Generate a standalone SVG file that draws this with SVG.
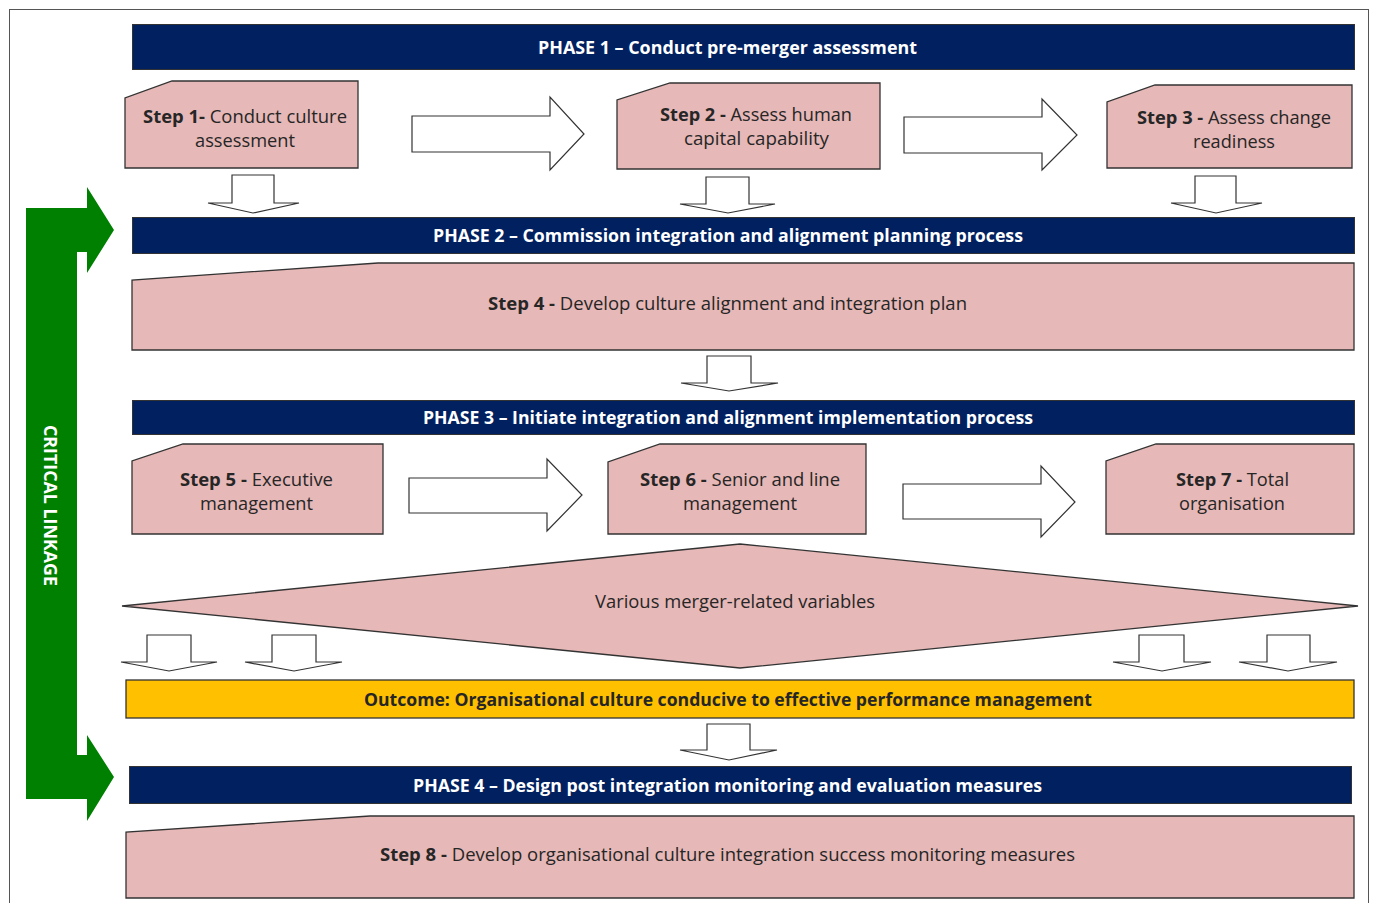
<svg xmlns="http://www.w3.org/2000/svg" width="1373" height="903" viewBox="0 0 1373 903">
<style>
.frame{fill:#fff;stroke:#555;stroke-width:1}
.phase{fill:#002060;stroke:#333;stroke-width:1}
.step{fill:#E6B8B7;stroke:#333;stroke-width:1.3}
.outcome{fill:#FFC000;stroke:#333;stroke-width:1.3}
.blk{fill:#fff;stroke:#333;stroke-width:1.2}
.link{fill:#008000}
text{font-family:"Open Sans","Noto Sans","Liberation Sans",sans-serif;font-size:18px;fill:#262626;text-anchor:middle}
.pt{font-weight:bold;fill:#fff;font-size:17px}
.b{font-weight:bold}
.ot{font-weight:bold;font-size:17px}
.cl{font-weight:bold;fill:#fff;font-size:17px}
</style>
<rect x="0" y="0" width="1373" height="903" fill="#fff"/>
<rect class="frame" x="9.5" y="9.5" width="1359" height="1000"/>

<g id="critical-linkage">
<polygon class="link" points="26,208 87,208 87,187 114,230 87,273 87,252 77,252 77,755 87,755 87,735 114,777 87,821 87,799 26,799"/>
<text class="cl" transform="translate(44,505.5) rotate(90)" x="0" y="0" textLength="161" lengthAdjust="spacingAndGlyphs">CRITICAL  LINKAGE</text>
</g>

<g id="connectors">
<polygon class="blk" points="412,116 550,116 550,97 584,134 550,170 550,152 412,152"/>
<polygon class="blk" points="904,117 1042,117 1042,99 1077,135 1042,170 1042,153 904,153"/>
<polygon class="blk" points="409,478 547,478 547,459 582,495 547,531 547,513 409,513"/>
<polygon class="blk" points="903,484 1041,484 1041,466 1075,502 1041,537 1041,519 903,519"/>
<polygon class="blk" points="232,175 274,175 274,203 299,203 253,213 208,203 232,203"/>
<polygon class="blk" points="706,177 749,177 749,204 775,204 728,213 680,204 706,204"/>
<polygon class="blk" points="1195,176 1236,176 1236,203 1262,203 1216,213 1171,203 1195,203"/>
<polygon class="blk" points="707,356 751,356 751,383 778,383 729,391 681,383 707,383"/>
<polygon class="blk" points="147,635 191,635 191,662 217,662 169,671 121,662 147,662"/>
<polygon class="blk" points="272,635 316,635 316,662 342,662 294,671 245,662 272,662"/>
<polygon class="blk" points="1139,635 1184,635 1184,662 1211,662 1162,671 1113,662 1139,662"/>
<polygon class="blk" points="1267,635 1310,635 1310,662 1337,662 1288,671 1239,662 1267,662"/>
<polygon class="blk" points="707,724 750,724 750,750 777,750 729,760 680,750 707,750"/>
</g>

<g id="phase1">
<rect class="phase" x="132.5" y="24.5" width="1222" height="45"/>
<text class="pt" x="727.5" y="54" textLength="379" lengthAdjust="spacingAndGlyphs">PHASE 1 – Conduct pre-merger assessment</text>
</g>

<g id="step1">
<polygon class="step" points="172,81 358,81 358,168 125,168 125,98"/>
<text x="245" y="123" textLength="204" lengthAdjust="spacingAndGlyphs"><tspan class="b">Step 1-</tspan> Conduct culture</text>
<text x="245" y="147" textLength="100" lengthAdjust="spacingAndGlyphs">assessment</text>
</g>

<g id="step2">
<polygon class="step" points="670,83 880,83 880,169 617,169 617,100"/>
<text x="756" y="121" textLength="192" lengthAdjust="spacingAndGlyphs"><tspan class="b">Step 2 -</tspan> Assess human</text>
<text x="756.5" y="145" textLength="145" lengthAdjust="spacingAndGlyphs">capital capability</text>
</g>

<g id="step3">
<polygon class="step" points="1155,85 1352,85 1352,168 1107,168 1107,102"/>
<text x="1234" y="124" textLength="194" lengthAdjust="spacingAndGlyphs"><tspan class="b">Step 3 -</tspan> Assess change</text>
<text x="1234" y="148" textLength="82" lengthAdjust="spacingAndGlyphs">readiness</text>
</g>

<g id="phase2">
<rect class="phase" x="132.5" y="217.5" width="1222" height="36"/>
<text class="pt" x="728" y="241.5" textLength="590" lengthAdjust="spacingAndGlyphs">PHASE 2 – Commission integration and alignment planning process</text>
</g>

<g id="step4">
<polygon class="step" points="378,263 1354,263 1354,350 132,350 132,280"/>
<text x="727.5" y="309.5" textLength="479" lengthAdjust="spacingAndGlyphs"><tspan class="b">Step 4 -</tspan> Develop culture alignment and integration plan</text>
</g>

<g id="phase3">
<rect class="phase" x="132.5" y="400.5" width="1222" height="34"/>
<text class="pt" x="728" y="423.5" textLength="610" lengthAdjust="spacingAndGlyphs">PHASE 3 – Initiate integration and alignment implementation process</text>
</g>

<g id="step5">
<polygon class="step" points="183,444 383,444 383,534 132,534 132,461"/>
<text x="256.5" y="485.5" textLength="153" lengthAdjust="spacingAndGlyphs"><tspan class="b">Step 5 -</tspan> Executive</text>
<text x="256.5" y="509.5" textLength="113" lengthAdjust="spacingAndGlyphs">management</text>
</g>

<g id="step6">
<polygon class="step" points="660,444 866,444 866,534 608,534 608,462"/>
<text x="740" y="485.5" textLength="200" lengthAdjust="spacingAndGlyphs"><tspan class="b">Step 6 -</tspan> Senior and line</text>
<text x="740" y="509.5" textLength="114" lengthAdjust="spacingAndGlyphs">management</text>
</g>

<g id="step7">
<polygon class="step" points="1156,444 1354,444 1354,534 1106,534 1106,461"/>
<text x="1232.5" y="485.5" textLength="113" lengthAdjust="spacingAndGlyphs"><tspan class="b">Step 7 -</tspan> Total</text>
<text x="1232" y="509.5" textLength="106" lengthAdjust="spacingAndGlyphs">organisation</text>
</g>

<g id="variables">
<polygon class="step" points="122,606 740,544 1358,606 740,668"/>
<text x="735" y="608" textLength="280" lengthAdjust="spacingAndGlyphs">Various merger-related variables</text>
</g>

<g id="outcome">
<rect class="outcome" x="126" y="680" width="1228" height="38"/>
<text class="ot" x="728" y="705.5" textLength="728" lengthAdjust="spacingAndGlyphs">Outcome: Organisational culture conducive to effective performance management</text>
</g>

<g id="phase4">
<rect class="phase" x="129.5" y="766.5" width="1222" height="37"/>
<text class="pt" x="727.5" y="791.5" textLength="629" lengthAdjust="spacingAndGlyphs">PHASE 4 – Design post integration monitoring and evaluation measures</text>
</g>

<g id="step8">
<polygon class="step" points="370,816 1354,816 1354,898 126,898 126,832"/>
<text x="727.5" y="860.5" textLength="695" lengthAdjust="spacingAndGlyphs"><tspan class="b">Step 8 -</tspan> Develop organisational culture integration success monitoring measures</text>
</g>
</svg>
